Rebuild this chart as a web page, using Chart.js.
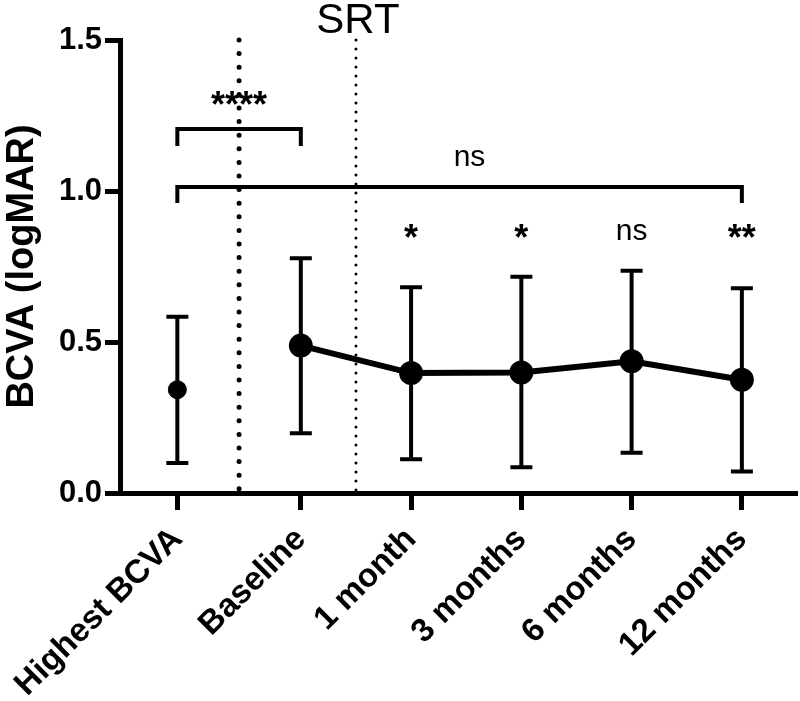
<!DOCTYPE html>
<html>
<head>
<meta charset="utf-8">
<script src="https://cdn.jsdelivr.net/npm/chart.js@4.4.1/dist/chart.umd.min.js"></script>
<style>
  html, body { margin: 0; padding: 0; background: #fff; }
</style>
</head>
<body>
<canvas id="bcva-chart" width="800" height="701"></canvas>
<script>
// Data
const timepoints = ['Highest BCVA', 'Baseline', '1 month', '3 months', '6 months', '12 months'];
const meanBCVA = [0.342, 0.488, 0.397, 0.399, 0.436, 0.375];
const upperBar = [0.584, 0.777, 0.681, 0.716, 0.736, 0.678];
const lowerBar = [0.099, 0.198, 0.112, 0.085, 0.133, 0.071];
const sigVsBaseline = ['', '', '*', '*', 'ns', '**'];
const yTicks = [0, 0.5, 1.0, 1.5];

const FONT = "'Liberation Sans', Arial, Helvetica, sans-serif";

// small gap after the first group, like the original figure
const slot = i => (i === 0 ? 0 : i + 0.12);

const firstPoint = [{ x: slot(0), y: meanBCVA[0] }];
const followUp = timepoints.slice(1).map((_, k) => ({ x: slot(k + 1), y: meanBCVA[k + 1] }));

const annotate = {
    id: 'annotate',
    beforeDatasetsDraw(chart) {
        const { ctx, chartArea, scales: { x, y } } = chart;
        ctx.save();
        // dotted separators
        ctx.strokeStyle = '#000';
        ctx.lineCap = 'round';
        const sep1 = x.getPixelForValue((slot(0) + slot(1)) / 2);
        ctx.lineWidth = 5;
        ctx.setLineDash([0, 13.6]);
        ctx.beginPath();
        ctx.moveTo(sep1, chartArea.top);
        ctx.lineTo(sep1, chartArea.bottom);
        ctx.stroke();
        const sep2 = x.getPixelForValue((slot(1) + slot(2)) / 2);
        ctx.lineWidth = 3;
        ctx.setLineDash([0, 9]);
        ctx.beginPath();
        ctx.moveTo(sep2, chartArea.top);
        ctx.lineTo(sep2, chartArea.bottom);
        ctx.stroke();
        ctx.setLineDash([]);

        // error bars
        ctx.lineCap = 'butt';
        ctx.lineWidth = 4;
        timepoints.forEach((_, i) => {
            const px = x.getPixelForValue(slot(i));
            const top = y.getPixelForValue(upperBar[i]);
            const bot = y.getPixelForValue(lowerBar[i]);
            ctx.beginPath();
            ctx.moveTo(px, top);
            ctx.lineTo(px, bot);
            ctx.moveTo(px - 11, top);
            ctx.lineTo(px + 11, top);
            ctx.moveTo(px - 11, bot);
            ctx.lineTo(px + 11, bot);
            ctx.stroke();
        });
        ctx.restore();
    },
    afterDatasetsDraw(chart) {
        const { ctx, scales: { x, y } } = chart;
        ctx.save();
        ctx.strokeStyle = '#000';
        ctx.fillStyle = '#000';
        ctx.lineWidth = 4;
        ctx.lineCap = 'butt';

        const bracket = (i0, i1, level, leg) => {
            const xa = x.getPixelForValue(slot(i0));
            const xb = x.getPixelForValue(slot(i1));
            const yy = y.getPixelForValue(level);
            ctx.beginPath();
            ctx.moveTo(xa, yy + leg);
            ctx.lineTo(xa, yy);
            ctx.lineTo(xb, yy);
            ctx.lineTo(xb, yy + leg);
            ctx.stroke();
        };
        bracket(0, 1, 1.205, 17);
        bracket(0, 5, 1.013, 16);

        ctx.textAlign = 'center';
        ctx.textBaseline = 'alphabetic';
        // SRT label above second separator
        ctx.font = `42px ${FONT}`;
        ctx.fillText('SRT', x.getPixelForValue((slot(1) + slot(2)) / 2) + 2, y.getPixelForValue(1.5) - 7);

        ctx.font = `bold 36px ${FONT}`;
        ctx.fillText('****', x.getPixelForValue((slot(0) + slot(1)) / 2), y.getPixelForValue(1.24) - 2);

        ctx.font = `30px ${FONT}`;
        ctx.fillText('ns', x.getPixelForValue(2.65), y.getPixelForValue(1.083));

        sigVsBaseline.forEach((s, i) => {
            if (!s) return;
            const px = x.getPixelForValue(slot(i));
            if (s === 'ns') {
                ctx.font = `30px ${FONT}`;
                ctx.fillText(s, px, y.getPixelForValue(0.838));
            } else {
                ctx.font = `bold 36px ${FONT}`;
                ctx.fillText(s, px, y.getPixelForValue(0.805));
            }
        });
        ctx.restore();
    }
};

new Chart(document.getElementById('bcva-chart'), {
    type: 'scatter',
    data: {
        datasets: [{
            data: firstPoint,
            showLine: false,
            backgroundColor: '#000',
            borderColor: '#000',
            pointRadius: 9
        }, {
            data: followUp,
            showLine: true,
            borderWidth: 6,
            backgroundColor: '#000',
            borderColor: '#000',
            pointRadius: 9,
            tension: 0
        }]
    },
    options: {
        responsive: false,
        animation: false,
        layout: { autoPadding: false, padding: { top: 40, right: 3, left: 0, bottom: 0 } },
        plugins: {
            legend: { display: false },
            tooltip: { enabled: false }
        },
        scales: {
            x: {
                type: 'linear',
                min: -0.52,
                max: 5.62,
                afterBuildTicks: axis => { axis.ticks = timepoints.map((_, i) => ({ value: slot(i) })); },
                afterFit: s => { s.height = 208; s.paddingLeft = 0; s.paddingRight = 0; },
                ticks: {
                    autoSkip: false,
                    minRotation: 45,
                    maxRotation: 45,
                    padding: 10,
                    color: '#000',
                    font: { family: FONT, size: 33, weight: 'bold' },
                    callback: (v, i) => timepoints[i]
                },
                grid: { drawOnChartArea: false, tickLength: 17, tickWidth: 5, tickColor: '#000' },
                border: { width: 5, color: '#000' }
            },
            y: {
                min: 0,
                max: 1.5,
                afterBuildTicks: axis => { axis.ticks = yTicks.map(v => ({ value: v })); },
                afterFit: s => { s.width = 120; s.paddingTop = 0; s.paddingBottom = 0; },
                ticks: {
                    padding: 3,
                    color: '#000',
                    font: { family: FONT, size: 31, weight: 'bold' },
                    callback: v => v.toFixed(1)
                },
                title: {
                    display: true,
                    text: 'BCVA (logMAR)',
                    color: '#000',
                    padding: 0,
                    font: { family: FONT, size: 38, weight: 'bold' }
                },
                grid: { drawOnChartArea: false, tickLength: 15, tickWidth: 5, tickColor: '#000' },
                border: { width: 5, color: '#000' }
            }
        }
    },
    plugins: [annotate]
});
</script>
</body>
</html>
